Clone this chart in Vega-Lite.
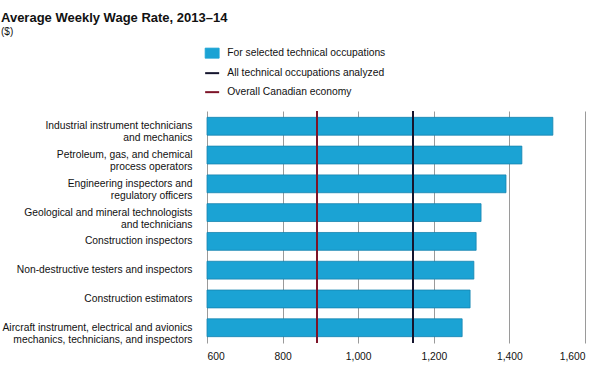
{
  "$schema": "https://vega.github.io/schema/vega-lite/v6.json",
  "autosize": "none",
  "width": 378,
  "height": 232,
  "padding": {"left": 207, "top": 111, "right": 15, "bottom": 26},
  "background": "white",
  "title": {
    "text": "Average Weekly Wage Rate, 2013–14",
    "subtitle": "($)",
    "anchor": "start",
    "frame": "group",
    "dx": -206,
    "dy": -7,
    "font": "Liberation Sans",
    "fontSize": 13,
    "fontWeight": "bold",
    "color": "#111111",
    "subtitleFont": "Liberation Sans",
    "subtitleFontSize": 10,
    "subtitleColor": "#111111",
    "subtitlePadding": 2
  },
  "config": {
    "view": {"stroke": null},
    "font": "Liberation Sans"
  },
  "datasets": {
    "bars": [
      {"occupation": "Industrial instrument technicians|and mechanics", "wage": 1515, "series": "For selected technical occupations"},
      {"occupation": "Petroleum, gas, and chemical|process operators", "wage": 1433, "series": "For selected technical occupations"},
      {"occupation": "Engineering inspectors and|regulatory officers", "wage": 1391, "series": "For selected technical occupations"},
      {"occupation": "Geological and mineral technologists|and technicians", "wage": 1325, "series": "For selected technical occupations"},
      {"occupation": "Construction inspectors", "wage": 1312, "series": "For selected technical occupations"},
      {"occupation": "Non-destructive testers and inspectors", "wage": 1306, "series": "For selected technical occupations"},
      {"occupation": "Construction estimators", "wage": 1296, "series": "For selected technical occupations"},
      {"occupation": "Aircraft instrument, electrical and avionics|mechanics, technicians, and inspectors", "wage": 1275, "series": "For selected technical occupations"}
    ],
    "refs": [
      {"series": "All technical occupations analyzed", "wage": 1145},
      {"series": "Overall Canadian economy", "wage": 891}
    ]
  },
  "encoding": {
    "color": {
      "field": "series",
      "type": "nominal",
      "scale": {
        "domain": ["For selected technical occupations", "All technical occupations analyzed", "Overall Canadian economy"],
        "range": ["#1ba3d4", "#15152e", "#7d1428"]
      },
      "legend": {
        "title": null,
        "orient": "none",
        "legendX": 0,
        "legendY": -63,
        "labelFont": "Liberation Sans",
        "labelFontSize": 10.3,
        "labelColor": "#111111",
        "rowPadding": 8,
        "symbolSize": 196,
        "labelOffset": 10,
        "encode": {
          "symbols": {
            "update": {
              "shape": {"signal": "datum.value === 'For selected technical occupations' ? 'M-1,-0.72H1V0.72H-1Z' : 'stroke'"},
              "fill": {"signal": "scale('color', datum.value)"},
              "stroke": {"signal": "datum.value === 'For selected technical occupations' ? '#1784b0' : scale('color', datum.value)"},
              "strokeWidth": {"signal": "datum.value === 'For selected technical occupations' ? 0.8 : 2"}
            }
          }
        }
      }
    }
  },
  "layer": [
    {
      "data": {"name": "bars"},
      "mark": {"type": "bar", "stroke": "#1784b0", "strokeWidth": 0.8},
      "encoding": {
        "y": {
          "field": "occupation",
          "type": "nominal",
          "sort": null,
          "scale": {"paddingInner": 0.38, "paddingOuter": 0.22},
          "axis": {
            "title": null,
            "domain": false,
            "ticks": false,
            "grid": false,
            "labelExpr": "split(datum.value, '|')",
            "labelFont": "Liberation Sans",
            "labelFontSize": 10.3,
            "labelLineHeight": 12,
            "labelColor": "#111111",
            "labelPadding": 15,
            "labelLimit": 300
          }
        },
        "x": {
          "field": "wage",
          "type": "quantitative",
          "scale": {"domain": [600, 1600], "zero": false, "nice": false},
          "axis": {
            "title": null,
            "values": [600, 800, 1000, 1200, 1400, 1600],
            "format": ",d",
            "domain": false,
            "ticks": false,
            "grid": true,
            "gridColor": "#9a9a9a",
            "gridWidth": 1,
            "labelFont": "Liberation Sans",
            "labelFontSize": 10.3,
            "labelColor": "#111111",
            "labelPadding": 8
          }
        },
        "x2": {"datum": 600}
      }
    },
    {
      "data": {"name": "refs"},
      "mark": {"type": "rule", "strokeWidth": 2},
      "encoding": {
        "x": {"field": "wage", "type": "quantitative"}
      }
    }
  ]
}
